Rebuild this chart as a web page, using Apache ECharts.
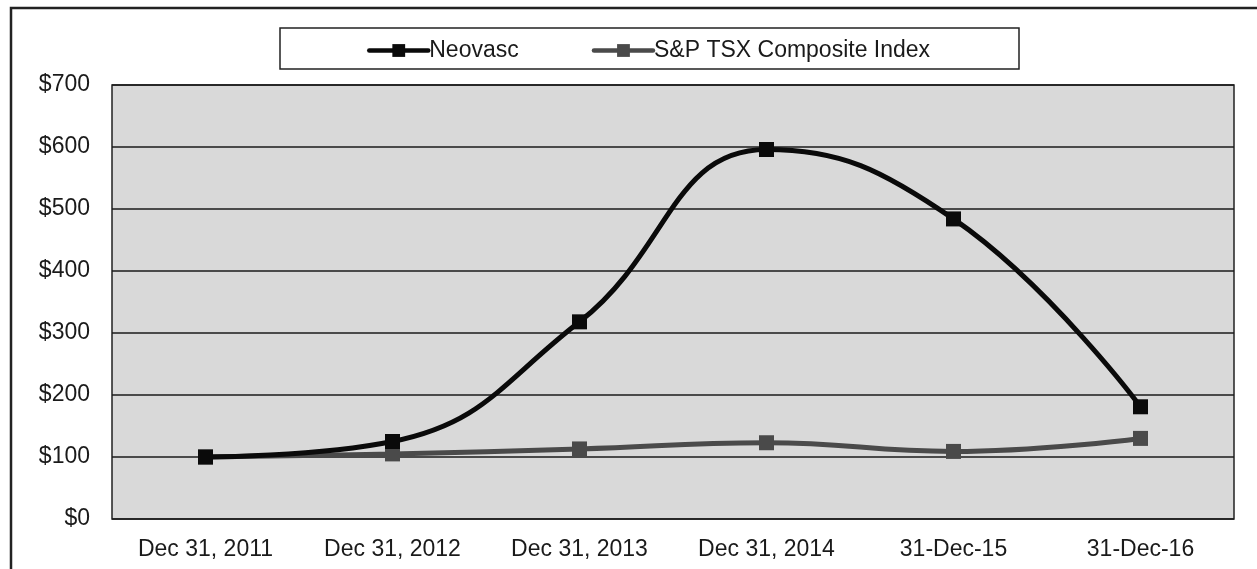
<!DOCTYPE html>
<html>
<head>
<meta charset="utf-8">
<script src="https://cdn.jsdelivr.net/npm/echarts@6/dist/echarts.min.js"></script>
<style>
  html, body { margin: 0; padding: 0; background: #fff; }
  #perf-chart { width: 1257px; height: 569px; }
</style>
</head>
<body>
<div id="perf-chart"></div>
<script>
var categories = ['Dec 31, 2011', 'Dec 31, 2012', 'Dec 31, 2013', 'Dec 31, 2014', '31-Dec-15', '31-Dec-16'];
var neovasc = [100, 125, 318, 596, 484, 181];
var tsx = [100, 105, 113, 123, 109, 130];
var y_ticks = { min: 0, max: 700, interval: 100 };

function draw_perf_chart() {
  var chart = echarts.init(document.getElementById('perf-chart'));
  var font = '"Liberation Sans", Arial, sans-serif';

  var option = {
    backgroundColor: '#fff',
    animation: false,
    graphic: [
      // outer frame
      { type: 'rect', shape: { x: 11, y: 8, width: 1260, height: 600 },
        style: { fill: 'none', stroke: '#222', lineWidth: 2.5 }, z: 0 },
      // legend box
      { type: 'rect', shape: { x: 280, y: 28, width: 739, height: 41 },
        style: { fill: '#fff', stroke: '#222', lineWidth: 1.5 }, z: 0 }
    ],
    legend: {
      data: ['Neovasc', 'S&P TSX Composite Index'],
      top: 34,
      left: 362,
      itemGap: 73,
      itemWidth: 59,
      itemHeight: 16,
      lineStyle: { width: 4.5, cap: 'round' },
      textStyle: { fontFamily: font, fontSize: 23, color: '#1a1a1a', padding: [0, 0, 0, -4] }
    },
    grid: {
      left: 112, top: 85, right: 23, bottom: 50,
      show: true,
      backgroundColor: '#d9d9d9',
      borderColor: '#222',
      borderWidth: 1.5
    },
    xAxis: {
      type: 'category',
      data: categories,
      boundaryGap: true,
      axisLine: { show: false },
      axisTick: { show: false },
      axisLabel: { fontFamily: font, fontSize: 23, color: '#1a1a1a', margin: 19 }
    },
    yAxis: {
      type: 'value',
      min: y_ticks.min,
      max: y_ticks.max,
      interval: y_ticks.interval,
      axisLine: { show: false },
      axisTick: { show: false },
      axisLabel: {
        fontFamily: font, fontSize: 23, color: '#1a1a1a', margin: 22,
        formatter: function (v) { return '$' + v; }
      },
      splitLine: { lineStyle: { color: '#1a1a1a', width: 1.5 } }
    },
    series: [{
      name: 'S&P TSX Composite Index',
      type: 'line',
      data: tsx,
      smooth: 0.45,
      symbol: 'rect',
      symbolSize: 15,
      z: 3,
      itemStyle: { color: '#4a4a4a', borderRadius: 2 },
      lineStyle: { color: '#4a4a4a', width: 5 }
    }, {
      name: 'Neovasc',
      type: 'line',
      data: neovasc,
      smooth: 0.45,
      symbol: 'rect',
      symbolSize: 15,
      z: 4,
      itemStyle: { color: '#0a0a0a' },
      lineStyle: { color: '#0a0a0a', width: 5 }
    }]
  };

  chart.setOption(option);
  window.addEventListener('resize', function () {
    chart.resize();
  });
}

draw_perf_chart();
</script>
</body>
</html>
